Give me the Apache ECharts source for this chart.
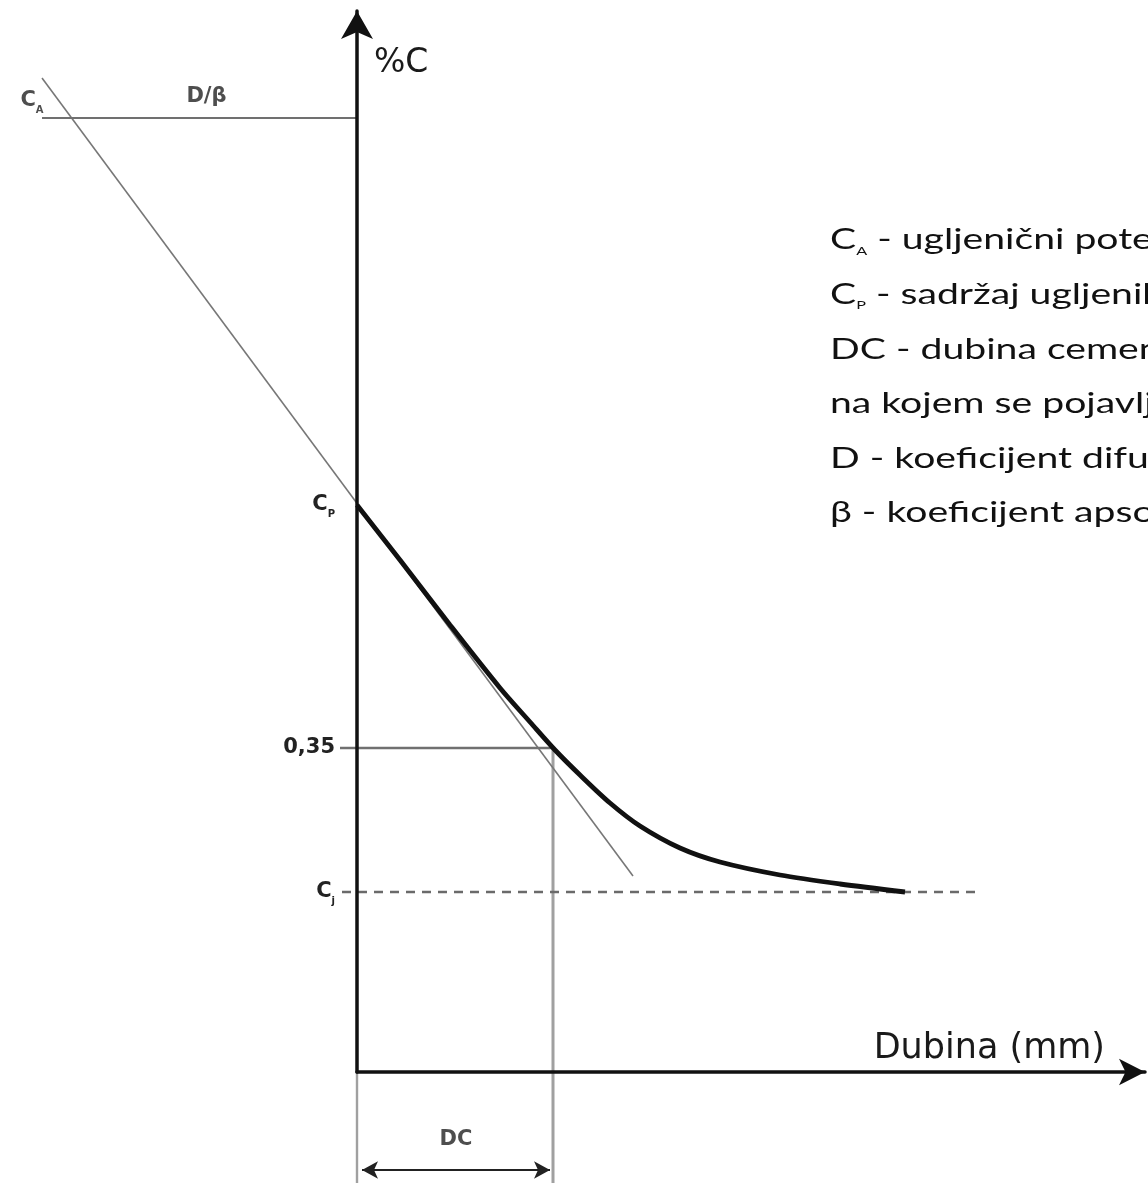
<!DOCTYPE html>
<html>
<head>
<meta charset="utf-8">
<script src="https://cdn.jsdelivr.net/npm/echarts@6/dist/echarts.min.js"></script>
<style>html,body{margin:0;padding:0;background:#fff}#c{width:1148px;height:1183px}</style>
</head>
<body>
<div id="c"></div>
<script>
// ---- schematic values (arbitrary units) ----
var cA = 95.4;      // ugljenični potencijal atmosfere
var cP = 56.7;      // sadržaj ugljenika na površini
var c035 = 32.4;    // 0,35 %C level
var cJ = 18.0;      // sadržaj ugljenika u jezgru
var dcDepth = 19.6; // dubina cementacije
var tangentX = [-31.5, 27.6];
var tangentY = [99.4, 19.6];
var curveX = [0, 4.3, 9.3, 14.3, 17.3, 19.8, 22.3, 25.3, 28.3, 32.3, 36.3, 42.3, 48.3, 54.8];
var curveY = [56.7, 51.2, 44.7, 38.4, 35.0, 32.2, 29.7, 26.9, 24.6, 22.4, 21.0, 19.7, 18.8, 18.0];
var cjLineEnd = 61.8;
var yLabels = {};
yLabels[cP] = '{b|C}{s|P}';
yLabels[c035] = '{b|0,35}';
yLabels[cJ] = '{b|C}{s|j}';
var legendLines = [
  '{t|C}{s|A}{t| - ugljenični potencijal atmosfere}',
  '{t|C}{s|P}{t| - sadržaj ugljenika na površini}',
  '{t|DC - dubina cementacije, rastojanje od površine do mjesta}',
  '{t|na kojem se pojavljuje 0,35 %C}',
  '{t|D - koeficijent difuzije}',
  '{t|β - koeficijent apsorpcije}'
];

var LFONT = 'Lato';
var AFONT = 'DejaVu Sans';
function pairs(xs, ys) { return xs.map(function (x, i) { return [x, ys[i]]; }); }
var below = -11.1, arrowY = -9.8, arrowInsetL = 0.5, arrowInsetR = 0.3;

var boldRich = {
  b: {fontFamily: AFONT, fontSize: 21, fontWeight: 'bold', color: '#222', lineHeight: 28},
  s: {fontFamily: AFONT, fontSize: 10, fontWeight: 'bold', color: '#222', verticalAlign: 'bottom', lineHeight: 13}
};

var chart = echarts.init(document.getElementById('c'), null, {renderer: 'canvas'});
chart.setOption({
  animation: false,
  backgroundColor: '#fff',
  textStyle: {fontFamily: AFONT},
  graphic: legendLines.map(function (txt, i) {
    return {
      type: 'text', x: 830, y: 240 + i * 54.6, scaleX: 1.35, originX: 0, silent: true,
      style: {
        text: txt, align: 'left', verticalAlign: 'middle', fill: '#111',
        fontFamily: LFONT, fontSize: 29,
        rich: {
          t: {fontFamily: LFONT, fontSize: 29, fill: '#111', lineHeight: 34},
          s: {fontFamily: LFONT, fontSize: 12, fill: '#111', verticalAlign: 'bottom', lineHeight: 14}
        }
      }
    };
  }),
  grid: [
    {left: 357, right: 3, top: 11, bottom: 111, containLabel: false},
    {left: 0, right: 3, top: 11, bottom: 0, containLabel: false}
  ],
  xAxis: [{
    type: 'value', gridIndex: 0, min: 0, max: 78.8, z: 3,
    name: 'Dubina (mm)', nameLocation: 'end', nameGap: -40,
    nameTextStyle: {fontFamily: AFONT, fontSize: 35, color: '#1a1a1a', align: 'right', verticalAlign: 'bottom', padding: [0, 0, 6, 0]},
    axisLine: {show: true, onZero: false, symbol: ['none', 'arrow'], symbolSize: [20, 26], lineStyle: {color: '#111', width: 3.5}},
    axisTick: {show: false}, axisLabel: {show: false}, splitLine: {show: false}
  }, {
    type: 'value', gridIndex: 1, min: -35.7, max: 78.8, show: false
  }],
  yAxis: [{
    type: 'value', gridIndex: 0, min: 0, max: 106.1, z: 3,
    name: '%C', nameLocation: 'end', nameGap: -36,
    nameTextStyle: {fontFamily: AFONT, fontSize: 33, color: '#1a1a1a', align: 'left', verticalAlign: 'top', padding: [0, 0, 0, 17]},
    axisLine: {show: true, onZero: false, symbol: ['none', 'arrow'], symbolSize: [24, 28], lineStyle: {color: '#111', width: 3.5}},
    axisTick: {show: false}, splitLine: {show: false},
    axisLabel: {
      show: true, customValues: [cP, c035, cJ], margin: 22,
      formatter: function (v) { return yLabels[v] || ''; },
      rich: boldRich
    }
  }, {
    type: 'value', gridIndex: 1, min: below, max: 106.1, show: false
  }],
  series: [
    { // tangent
      type: 'line', xAxisIndex: 1, yAxisIndex: 1, silent: true, symbol: 'none',
      data: pairs(tangentX, tangentY), lineStyle: {color: '#777', width: 1.6}, z: 2
    },
    { // C_A level
      type: 'line', xAxisIndex: 1, yAxisIndex: 1, silent: true, symbol: 'none',
      data: [[tangentX[0], cA], [0, cA]], lineStyle: {color: '#707070', width: 2}, z: 2
    },
    { // 0,35 level
      type: 'line', xAxisIndex: 1, yAxisIndex: 1, silent: true, symbol: 'none',
      data: [[-1.7, c035], [dcDepth, c035]], lineStyle: {color: '#707070', width: 2.4}, z: 2
    },
    { // C_j dashed
      type: 'line', xAxisIndex: 1, yAxisIndex: 1, silent: true, symbol: 'none',
      data: [[-1.5, cJ], [cjLineEnd, cJ]], lineStyle: {color: '#6a6a6a', width: 2.5, type: [9, 7]}, z: 2
    },
    { // DC vertical
      type: 'line', xAxisIndex: 1, yAxisIndex: 1, silent: true, symbol: 'none',
      data: [[dcDepth, c035], [dcDepth, below]], lineStyle: {color: '#a0a0a0', width: 3}, z: 1
    },
    { // y axis extension below origin
      type: 'line', xAxisIndex: 1, yAxisIndex: 1, silent: true, symbol: 'none',
      data: [[0, 0], [0, below]], lineStyle: {color: '#a0a0a0', width: 2.4}, z: 1
    },
    { // DC double arrow
      type: 'line', xAxisIndex: 1, yAxisIndex: 1, silent: true,
      symbol: 'arrow', symbolSize: [13, 16], showAllSymbol: true,
      itemStyle: {color: '#222'}, lineStyle: {color: '#222', width: 2},
      data: [
        {value: [arrowInsetL, arrowY], symbolRotate: 90},
        {value: [dcDepth - arrowInsetR, arrowY], symbolRotate: -90}
      ], z: 2
    },
    { // carbon profile
      type: 'line', xAxisIndex: 0, yAxisIndex: 0, silent: true, symbol: 'none', smooth: 0.3,
      data: pairs(curveX, curveY), lineStyle: {color: '#111', width: 4.8}, z: 5
    },
    { // annotations
      type: 'scatter', xAxisIndex: 1, yAxisIndex: 1, silent: true, symbolSize: 0,
      data: [
        {value: [tangentX[0], cA], label: {formatter: '{b|C}{s|A}', offset: [-10, -17]}},
        {value: [tangentX[0] / 2, cA], label: {formatter: '{b|D/β}', offset: [7, -21]}},
        {value: [dcDepth / 2, arrowY], label: {formatter: '{b|DC}', offset: [1, -30]}}
      ],
      label: {show: true, position: 'inside', rich: boldRich}
    }
  ]
});
</script>
</body>
</html>
